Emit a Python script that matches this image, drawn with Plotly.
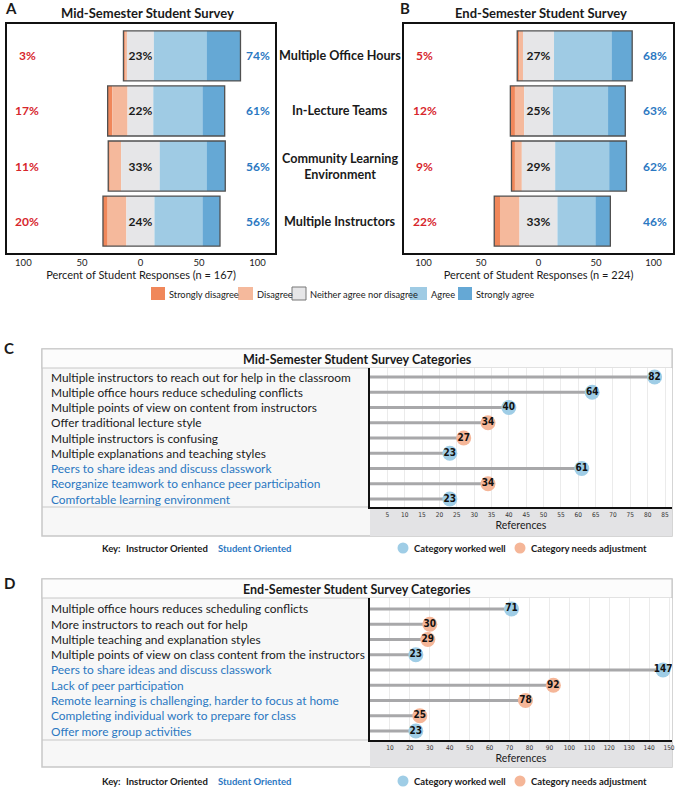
import plotly.graph_objects as go

W, H = 675, 789


def px(x):
    return x / W


def py(y):
    return 1 - y / H


FONT = "Lato, 'Open Sans', sans-serif"
NARROW = "'Liberation Sans Narrow', 'DejaVu Sans Condensed', 'Roboto Condensed', sans-serif"
BLACK = "#1a1a1a"
BLUE_TXT = "#2b78c2"
RED_TXT = "#d7262c"

# ---------------- Panels A / B data ----------------
items = ["Multiple Office Hours", "In-Lecture Teams",
         "Community Learning<br>Environment", "Multiple Instructors"]
likert_levels = ["Strongly disagree", "Disagree", "Neither agree nor disagree",
                 "Agree", "Strongly agree"]
likert_colors = ["#f0875a", "#f5b99c", "#e6e6e8", "#9fcbe4", "#65a8d5"]

mid_sd = [1, 4, 1, 4]
mid_d = [2, 13, 10, 16]
mid_n = [23, 22, 33, 24]
mid_a = [45, 42, 40, 41]
mid_sa = [29, 19, 16, 15]
mid_disagree_pct = [3, 17, 11, 20]
mid_agree_pct = [74, 61, 56, 56]

end_sd = [2, 4, 3, 5]
end_d = [3, 8, 6, 17]
end_n = [27, 25, 29, 33]
end_a = [50, 48, 47, 33]
end_sa = [18, 15, 15, 13]
end_disagree_pct = [5, 12, 9, 22]
end_agree_pct = [68, 63, 62, 46]

pct_ticks = [-100, -50, 0, 50, 100]
pct_ticktext = ["100", "50", "0", "50", "100"]

# ---------------- Panels C / D data ----------------
mid_cats = [
    "Multiple instructors to reach out for help in the classroom",
    "Multiple office hours reduce scheduling conflicts",
    "Multiple points of view on content from instructors",
    "Offer traditional lecture style",
    "Multiple instructors is confusing",
    "Multiple explanations and teaching styles",
    "Peers to share ideas and discuss classwork",
    "Reorganize teamwork to enhance peer participation",
    "Comfortable learning environment",
]
mid_refs = [82, 64, 40, 34, 27, 23, 61, 34, 23]
mid_orient = ["Instructor"] * 6 + ["Student"] * 3
mid_status = ["well", "well", "well", "adjust", "adjust", "well", "well", "adjust", "well"]

end_cats = [
    "Multiple office hours reduces scheduling conflicts",
    "More instructors to reach out for help",
    "Multiple teaching and explanation styles",
    "Multiple points of view on class content from the instructors",
    "Peers to share ideas and discuss classwork",
    "Lack of peer participation",
    "Remote learning is challenging, harder to focus at home",
    "Completing individual work to prepare for class",
    "Offer more group activities",
]
end_refs = [71, 30, 29, 23, 147, 92, 78, 25, 23]
end_orient = ["Instructor"] * 4 + ["Student"] * 5
end_status = ["well", "adjust", "adjust", "well", "well", "adjust", "adjust", "adjust", "well"]

mid_ticks = list(range(5, 90, 5))
end_ticks = list(range(10, 160, 10))

status_colors = {"well": "#9fcde6", "adjust": "#f5b698"}
status_labels = {"well": "Category worked well", "adjust": "Category needs adjustment"}
orient_colors = {"Instructor": BLACK, "Student": BLUE_TXT}

fig = go.Figure()
annotations = []
shapes = []


def ann(x, y, text, size, color=BLACK, xref="paper", yref="paper", xanchor="center", family=None):
    f = dict(size=size, color=color)
    if family:
        f["family"] = family
    annotations.append(dict(xref=xref, yref=yref, x=x, y=y, text=text, showarrow=False,
                            xanchor=xanchor, yanchor="middle", font=f))


def add_likert(sd, d, n, a, sa, dis_pct, agr_pct, xa, ya):
    segs = [sd, d, n, a, sa]
    starts = [-(sd[i] + d[i] + n[i] / 2) for i in range(len(items))]
    base = list(starts)
    for k, seg in enumerate(segs):
        kw = {}
        if k == 2:
            kw = dict(text=[f"<b>{v}%</b>" for v in seg], textposition="inside",
                      insidetextanchor="middle", constraintext="none",
                      textfont=dict(size=12, color=BLACK, family=FONT), textangle=0)
        fig.add_trace(go.Bar(y=items, x=seg, base=base, orientation="h", width=0.91,
                             marker=dict(color=likert_colors[k], line=dict(width=0)),
                             name=likert_levels[k], showlegend=False,
                             xaxis=xa, yaxis=ya, **kw))
        base = [b + s for b, s in zip(base, seg)]
    totals = [sum(s[i] for s in segs) for i in range(len(items))]
    fig.add_trace(go.Bar(y=items, x=totals, base=starts, orientation="h", width=0.91,
                         marker=dict(color="rgba(0,0,0,0)", line=dict(color="#505050", width=1.3)),
                         showlegend=False, hoverinfo="skip", xaxis=xa, yaxis=ya))
    dom = "x domain" if xa == "x" else xa + " domain"
    lx, rx = (0.075, 0.937) if xa == "x" else (0.078, 0.933)
    for i, it in enumerate(items):
        ann(lx, it, f"<b>{dis_pct[i]}%</b>", 12, RED_TXT, xref=dom, yref=ya)
        ann(rx, it, f"<b>{agr_pct[i]}%</b>", 12, BLUE_TXT, xref=dom, yref=ya)


add_likert(mid_sd, mid_d, mid_n, mid_a, mid_sa, mid_disagree_pct, mid_agree_pct, "x", "y")
add_likert(end_sd, end_d, end_n, end_a, end_sa, end_disagree_pct, end_agree_pct, "x2", "y2")

for it in items:
    ann(px(340), it, f"<b>{it}</b>", 12.6, BLACK, yref="y")

# Panel titles and letters
ann(px(3), py(8), "<b>A</b>", 15, xanchor="left")
ann(px(147), py(13), "<b>Mid-Semester Student Survey</b>", 13)
ann(px(398), py(8), "<b>B</b>", 15, xanchor="left")
ann(px(541), py(13), "<b>End-Semester Student Survey</b>", 13)

# Likert legend (manual key)
sw_x = [151, 238, 292, 410, 458]
sw_w = [14, 15, 14, 17, 14]
for k, lvl in enumerate(likert_levels):
    shapes.append(dict(type="rect", xref="paper", yref="paper", x0=px(sw_x[k]), x1=px(sw_x[k] + sw_w[k]),
                       y0=py(300), y1=py(287), fillcolor=likert_colors[k],
                       line=dict(color="#777777" if k == 2 else likert_colors[k], width=1 if k == 2 else 0)))
    ann(px(sw_x[k] + sw_w[k] + 2), py(294), lvl, 9.3, xanchor="left")


# ---------------- Lollipop panels ----------------
def add_lollipop(cats, refs, orient, status, xa, ya, top, title_bot, plot_bot, box_bot, key_y,
                 title, letter, letter_y):
    idx = list(range(len(cats)))
    fig.add_trace(go.Bar(x=refs, y=idx, orientation="h", width=0.2, base=0,
                         marker=dict(color="#a8a8aa", line=dict(width=0)),
                         showlegend=False, hoverinfo="skip", xaxis=xa, yaxis=ya))
    fig.add_trace(go.Scatter(x=refs, y=idx, mode="markers+text", text=[str(v) for v in refs],
                             textposition="middle center",
                             textfont=dict(size=10, color="#111111", family=NARROW, weight="bold"),
                             marker=dict(size=15, color=[status_colors[s] for s in status],
                                         line=dict(width=0)),
                             showlegend=False, xaxis=xa, yaxis=ya))
    for i, c in enumerate(cats):
        ann(px(49), i, c, 11.9, orient_colors[orient[i]], yref=ya, xanchor="left")
    shapes.extend([
        dict(type="rect", xref="paper", yref="paper", x0=px(42), x1=px(672), y0=py(box_bot), y1=py(top),
             fillcolor="#f7f7f7", line=dict(color="#c8c8c8", width=1.5), layer="below"),
        dict(type="rect", xref="paper", yref="paper", x0=px(42), x1=px(672), y0=py(title_bot), y1=py(top),
             fillcolor="#fcfcfc", line=dict(color="#c8c8c8", width=1.2), layer="below"),
        dict(type="rect", xref="paper", yref="paper", x0=px(370), x1=px(672), y0=py(box_bot), y1=py(plot_bot),
             fillcolor="#e3e3e5", line=dict(width=0), layer="below"),
        dict(type="rect", xref="paper", yref="paper", x0=px(370), x1=px(672), y0=py(plot_bot), y1=py(title_bot),
             fillcolor="#ffffff", line=dict(width=0), layer="below"),
        dict(type="line", xref="paper", yref="paper", x0=px(42), x1=px(370), y0=py(plot_bot), y1=py(plot_bot),
             line=dict(color="#c8c8c8", width=1.2), layer="below"),
    ])
    ann(px(357), py((top + title_bot) / 2 + 0.5), f"<b>{title}</b>", 12.5)
    ann(px(2), py(letter_y), f"<b>{letter}</b>", 15, xanchor="left")
    ann(px(100), py(key_y), "<b>Key:</b>", 9.5, xanchor="left")
    ann(px(124), py(key_y), "<b>Instructor Oriented</b>", 9.5, xanchor="left")
    ann(px(216), py(key_y), "<b>Student Oriented</b>", 9.5, BLUE_TXT, xanchor="left")
    for cx, st in [(403, "well"), (520, "adjust")]:
        shapes.append(dict(type="circle", xref="paper", yref="paper", xsizemode="pixel", ysizemode="pixel",
                           xanchor=px(cx), yanchor=py(key_y), x0=-5.5, x1=5.5, y0=-5.5, y1=5.5,
                           fillcolor=status_colors[st], line=dict(width=0)))
        ann(px(cx + 9), py(key_y), f"<b>{status_labels[st]}</b>", 9.5, xanchor="left")


add_lollipop(mid_cats, mid_refs, mid_orient, mid_status, "x3", "y3",
             349, 368, 507, 536, 548, "Mid-Semester Student Survey Categories", "C", 348)
add_lollipop(end_cats, end_refs, end_orient, end_status, "x4", "y4",
             579, 598, 740, 767, 781, "End-Semester Student Survey Categories", "D", 583)

common_pct_x = dict(tickvals=pct_ticks, ticktext=pct_ticktext, showgrid=False, zeroline=False,
                    showline=True, mirror=True, linecolor="#111111", linewidth=2, ticks="",
                    tickfont=dict(size=9.5, color=BLACK), fixedrange=True, automargin=False)
common_pct_y = dict(showgrid=False, zeroline=False, showline=True, mirror=True, linecolor="#111111",
                    linewidth=2, showticklabels=False, ticks="", type="category",
                    range=[3.58, -0.58], automargin=False)

common_ref_x = dict(showgrid=True, gridcolor="#ebebeb", gridwidth=1, zeroline=False, showline=True,
                    linecolor="#111111", linewidth=2, ticks="",
                    tickfont=dict(size=6.5, color="#333333", family=NARROW), automargin=False,
                    title=dict(text="References", font=dict(size=10.5, color=BLACK), standoff=3))
common_ref_y = dict(showgrid=False, zeroline=False, showline=True, linecolor="#111111", linewidth=2,
                    showticklabels=False, ticks="", automargin=False)

fig.update_layout(
    width=W, height=H, margin=dict(l=0, r=0, t=0, b=0),
    paper_bgcolor="white", plot_bgcolor="rgba(0,0,0,0)",
    font=dict(family=FONT, color=BLACK), barmode="overlay", showlegend=False,
    xaxis=dict(domain=[px(7), px(275)], range=[-114, 115], anchor="y",
               title=dict(text="Percent of Student Responses (n = 167)", font=dict(size=11), standoff=2),
               **common_pct_x),
    yaxis=dict(domain=[py(253), py(24)], anchor="x", **common_pct_y),
    xaxis2=dict(domain=[px(404), px(673)], range=[-117, 117], anchor="y2",
                title=dict(text="Percent of Student Responses (n = 224)", font=dict(size=11), standoff=2),
                **common_pct_x),
    yaxis2=dict(domain=[py(253), py(24)], anchor="x2", **common_pct_y),
    xaxis3=dict(domain=[px(370), px(672)], range=[0, 87], anchor="y3", tickvals=mid_ticks, **common_ref_x),
    yaxis3=dict(domain=[py(507), py(368)], anchor="x3", range=[8.52, -0.59], **common_ref_y),
    xaxis4=dict(domain=[px(370), px(672)], range=[0, 151.5], anchor="y4", tickvals=end_ticks, **common_ref_x),
    yaxis4=dict(domain=[py(740), py(598)], anchor="x4", range=[8.59, -0.72], **common_ref_y),
    annotations=annotations,
    shapes=shapes,
)

fig.write_html("out.html", config={"displayModeBar": False},
               post_script="document.body.style.margin='0';document.body.style.overflow='hidden';")
